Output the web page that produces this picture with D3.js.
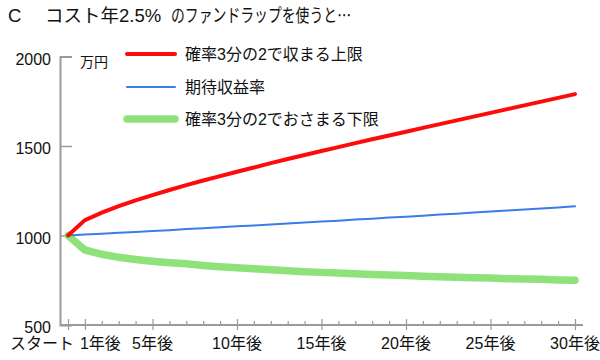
<!DOCTYPE html>
<html><head><meta charset="utf-8">
<script src="https://cdn.jsdelivr.net/npm/d3@7"></script>
<style>
body{margin:0;background:#fff;}
text{fill:#111;}
</style></head>
<body><svg id="c" width="600" height="360"></svg>
<script>
const years = d3.range(0, 31);
const upper = [1000,1086,1128,1164,1196,1226,1254,1281,1307,1332,1356,1380,1404,1427,1450,1472,1494,1516,1538,1559,1580,1601,1622,1643,1664,1685,1706,1727,1748,1769,1790];
const expected = [1000,1005,1010,1015,1020,1025,1030,1036,1041,1046,1051,1056,1062,1067,1073,1078,1083,1089,1094,1100,1105,1111,1117,1122,1128,1134,1140,1145,1151,1157,1163];
const lower = [1000,919,895,878,866,856,848,842,833,826,820,814,809,803,798,794,790,786,782,779,776,773,770,767,764,762,759,757,755,752,750];
const seriesNames = ["確率3分の2で収まる上限","期待収益率","確率3分の2でおさまる下限"];
const yTicks = [500,1000,1500,2000];
const majorYears = [0,1,5,10,15,20,25,30];
const xLabels = ["スタート","1年後","5年後","10年後","15年後","20年後","25年後","30年後"];
const titleParts = ["C","コスト年2.5%","のファンドラップを使うと…"];
const unit = "万円";

const FONT = "'Liberation Sans','Noto Sans CJK JP',sans-serif";
const svg = d3.select("#c");
const x = d3.scaleLinear().domain([0,30]).range([68,575]);
const y = d3.scaleLinear().domain([500,2000]).range([325,56.5]);
const axisColor = "#9a9a9a";

const t = svg.append("text").attr("y",22).attr("font-size",18.5).attr("font-family",FONT);
t.append("tspan").attr("x",8).text(titleParts[0]);
t.append("tspan").attr("x",45).text(titleParts[1]);
t.append("tspan").attr("x",171).attr("textLength",180).attr("lengthAdjust","spacingAndGlyphs")
  .attr("font-family","'Noto Sans CJK JP',sans-serif").text(titleParts[2]);

// y axis
const ya = svg.append("g").attr("transform","translate(60,0)")
  .call(d3.axisLeft(y).tickValues(yTicks).tickSize(-12).tickPadding(9).tickFormat(d3.format("d")));
ya.select(".domain").attr("stroke",axisColor).attr("stroke-width",2);
ya.selectAll(".tick line").attr("stroke",axisColor).attr("stroke-width",1.5);
ya.selectAll(".tick text").attr("font-size",16).attr("font-family","'Liberation Sans',sans-serif").attr("fill","#111").attr("dy","0.48em");
ya.selectAll(".tick").filter(d=>d===500).select("line").remove();

svg.append("text").attr("x",80).attr("y",67).attr("font-size",14).attr("font-family",FONT).text(unit);

// x axis
const xa = svg.append("g").attr("transform","translate(0,325)")
  .call(d3.axisBottom(x).tickValues(years).tickSize(-4).tickFormat(""));
xa.select(".domain").attr("d","M60,0H583").attr("stroke",axisColor).attr("stroke-width",2);
xa.selectAll(".tick line").attr("stroke",axisColor).attr("stroke-width",1.2);
xa.selectAll(".tick").filter(d=>majorYears.includes(d)).select("line").attr("y1",-6).attr("y2",5);

const xl = svg.append("g");
xl.selectAll("text").data(majorYears).join("text")
  .attr("x",(d,i)=> i===0 ? x(d)+6 : (i===1 ? x(d)-5 : x(d)))
  .attr("y",349).attr("font-size",16).attr("font-family",FONT)
  .attr("text-anchor",(d,i)=> i===0 ? "end" : (i===1 ? "start" : "middle"))
  .text((d,i)=>xLabels[i]);

// lines
const line = d3.line().x((d,i)=>x(years[i])).y(d=>y(d));
const styles = [
  {data:upper,color:"#ff0a0a",w:4},
  {data:expected,color:"#3a7de6",w:2},
  {data:lower,color:"#8fe27a",w:7.5}
];
[2,1,0].forEach(k=>{
  const s = styles[k];
  svg.append("path").attr("d",line(s.data)).attr("fill","none")
    .attr("stroke",s.color).attr("stroke-width",s.w)
    .attr("stroke-linecap","round").attr("stroke-linejoin","miter");
});

// legend
const legY = [54,87,119];
seriesNames.forEach((n,i)=>{
  const s = styles[i];
  svg.append("line").attr("x1",127).attr("x2",175).attr("y1",legY[i]).attr("y2",legY[i])
    .attr("stroke",s.color).attr("stroke-width",s.w).attr("stroke-linecap","round");
  svg.append("text").attr("x",185).attr("y",legY[i]).attr("dy","0.36em").attr("font-size",16)
    .attr("font-family",FONT).text(n);
});
</script></body></html>
